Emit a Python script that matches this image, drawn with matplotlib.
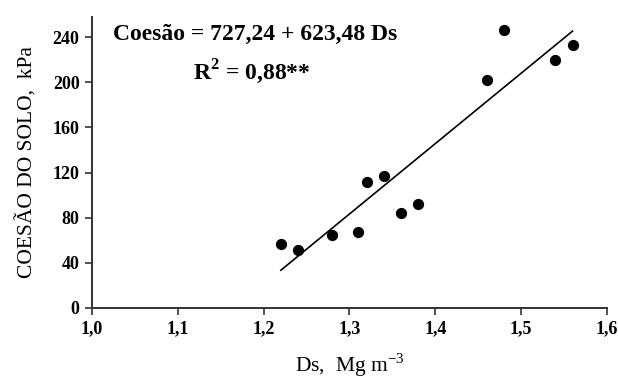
import matplotlib
matplotlib.use('Agg')
import numpy as np
import matplotlib.pyplot as plt

# Data
ds = [1.22, 1.24, 1.28, 1.31, 1.32, 1.34, 1.36, 1.38, 1.46, 1.48, 1.54, 1.56]
coesao = [57, 51, 65, 67, 112, 117, 84, 92, 202, 246, 220, 233]

# Fitted line as printed on the chart (intercept is negative)
intercept = -727.24
slope = 623.48
x_fit = [1.22, 1.56]

x_ticks = [1.0, 1.1, 1.2, 1.3, 1.4, 1.5, 1.6]
x_ticklabels = ['1,0', '1,1', '1,2', '1,3', '1,4', '1,5', '1,6']
y_ticks = [0, 40, 80, 120, 160, 200, 240]

plt.rcParams['font.family'] = ['Liberation Serif', 'DejaVu Serif']
plt.rcParams['mathtext.fontset'] = 'custom'
plt.rcParams['mathtext.rm'] = 'Liberation Serif'
plt.rcParams['mathtext.bf'] = 'Liberation Serif:bold'

fig = plt.figure(figsize=(6.18, 3.83), dpi=100)
ax = fig.add_axes([0.149, 0.196, 0.833, 0.760])

ax.scatter(ds, coesao, s=50, color='black', zorder=3)
xf = np.array(x_fit)
ax.plot(xf, intercept + slope * xf, color='black', linewidth=1.2)

ax.set_xlim(1.0, 1.6)
ax.set_ylim(0, 258)
ax.set_xticks(x_ticks)
ax.set_xticklabels(x_ticklabels)
ax.set_yticks(y_ticks)

for side in ['top', 'right']:
    ax.spines[side].set_visible(False)
for side in ['left', 'bottom']:
    ax.spines[side].set_color('#333333')
    ax.spines[side].set_linewidth(1.4)

ax.tick_params(direction='out', length=5, width=1.2, color='#333333',
               labelsize=13, pad=4)
for lbl in ax.get_xticklabels() + ax.get_yticklabels():
    lbl.set_fontweight('bold')

ax.set_ylabel('COESÃO DO SOLO,  kPa', fontsize=15.5, labelpad=11)
ax.set_xlabel('Ds,  Mg m$^{\\mathregular{-3}}$', fontsize=15.5, labelpad=10)

ax.text(0.04, 0.94, 'Coesão = 727,24 + 623,48 Ds', transform=ax.transAxes,
        fontsize=17, fontweight='bold', ha='left', va='center')
ax.text(0.197, 0.81, 'R$^\\mathbf{2}$ = 0,88**', transform=ax.transAxes,
        fontsize=17, fontweight='bold', ha='left', va='center')

fig.savefig('out.png', dpi=100, facecolor='white')
